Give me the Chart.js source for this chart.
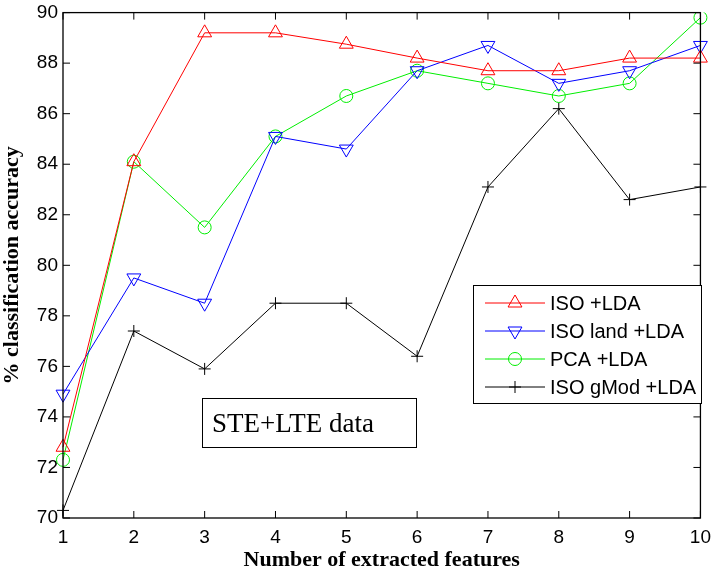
<!DOCTYPE html>
<html>
<head>
<meta charset="utf-8">
<script src="https://cdn.jsdelivr.net/npm/chart.js@4.4.1/dist/chart.umd.min.js"></script>
<style>
  body { margin: 0; background: #fff; }
  #wrap { width: 719px; height: 573px; }
</style>
</head>
<body>
<div id="wrap"><canvas id="chart"></canvas></div>
<script>
// number of extracted features
const features = [1, 2, 3, 4, 5, 6, 7, 8, 9, 10];
const yTicks = [70, 72, 74, 76, 78, 80, 82, 84, 86, 88, 90];

// % classification accuracy per method
const isoLda     = [72.8, 84.1, 89.2, 89.2, 88.75, 88.2, 87.7, 87.7, 88.2, 88.2];
const isoLandLda = [74.9, 79.5, 78.5, 85.1, 84.6, 87.7, 88.7, 87.2, 87.7, 88.7];
const pcaLda     = [72.3, 84.1, 81.5, 85.1, 86.7, 87.7, 87.2, 86.7, 87.2, 89.8];
const isoGModLda = [70.3, 77.4, 75.9, 78.5, 78.5, 76.4, 83.1, 86.2, 82.6, 83.1];

const seriesNames = ['ISO +LDA', 'ISO land +LDA', 'PCA +LDA', 'ISO gMod +LDA'];
const annotationText = 'STE+LTE data';

function makeSet(label, data, color, style, radius, rotation) {
    return {
        label: label,
        data: data,
        borderColor: color,
        backgroundColor: 'transparent',
        borderWidth: 1,
        pointStyle: style,
        pointRadius: radius,
        pointHoverRadius: radius,
        pointRotation: rotation || 0,
        pointBorderColor: color,
        pointBackgroundColor: 'transparent',
        pointBorderWidth: 1,
        tension: 0,
        fill: false
    };
}

// box, inward ticks, legend and text box, drawn the matlab way
const matlabFrame = {
    id: 'matlabFrame',
    afterDraw(chart) {
        const ctx = chart.ctx;
        const a = chart.chartArea;
        const xs = chart.scales.x;
        const ys = chart.scales.y;
        const tick = 7;

        ctx.save();
        ctx.strokeStyle = '#000';
        ctx.lineWidth = 1.3;
        ctx.strokeRect(a.left, a.top, a.right - a.left, a.bottom - a.top);

        ctx.lineWidth = 1;
        ctx.beginPath();
        features.forEach((f, i) => {
            const px = xs.getPixelForValue(i);
            ctx.moveTo(px, a.bottom); ctx.lineTo(px, a.bottom - tick);
            ctx.moveTo(px, a.top); ctx.lineTo(px, a.top + tick);
        });
        yTicks.forEach(v => {
            const py = ys.getPixelForValue(v);
            ctx.moveTo(a.left, py); ctx.lineTo(a.left + tick, py);
            ctx.moveTo(a.right, py); ctx.lineTo(a.right - tick, py);
        });
        ctx.stroke();

        // legend
        const lx = 473, ly = 285, lw = 228, lh = 118;
        ctx.fillStyle = '#fff';
        ctx.fillRect(lx, ly, lw, lh);
        ctx.strokeStyle = '#000';
        ctx.lineWidth = 1;
        ctx.strokeRect(lx + 0.5, ly + 0.5, lw, lh);
        ctx.font = '20px "Liberation Sans", Arial, sans-serif';
        ctx.textBaseline = 'middle';
        chart.data.datasets.forEach((ds, i) => {
            const y = ly + 18 + i * 28;
            ctx.strokeStyle = ds.borderColor;
            ctx.fillStyle = 'transparent';
            ctx.lineWidth = 1;
            ctx.beginPath();
            ctx.moveTo(lx + 12, y); ctx.lineTo(lx + 72, y);
            ctx.stroke();
            Chart.helpers.drawPoint(ctx, {
                pointStyle: ds.pointStyle,
                rotation: ds.pointRotation,
                radius: ds.pointRadius,
                borderWidth: 1
            }, lx + 42, y);
            ctx.fillStyle = '#000';
            ctx.fillText(ds.label, lx + 77, y + 1);
        });

        // text box
        ctx.strokeStyle = '#000';
        ctx.lineWidth = 1;
        ctx.strokeRect(202.5, 398.5, 214, 49);
        ctx.fillStyle = '#000';
        ctx.font = '27px "Liberation Serif", "Times New Roman", serif';
        ctx.textBaseline = 'alphabetic';
        ctx.fillText(annotationText, 212, 432);
        ctx.restore();
    }
};

new Chart(document.getElementById('chart'), {
    type: 'line',
    data: {
        labels: features.map(String),
        datasets: [
            makeSet(seriesNames[0], isoLda, '#ff0000', 'triangle', 8, 0),
            makeSet(seriesNames[1], isoLandLda, '#0000ff', 'triangle', 8, 180),
            makeSet(seriesNames[2], pcaLda, '#00ee00', 'circle', 6.5, 0),
            makeSet(seriesNames[3], isoGModLda, '#000000', 'cross', 6, 0)
        ]
    },
    options: {
        responsive: true,
        maintainAspectRatio: false,
        animation: false,
        layout: { padding: { top: 10, right: 10, left: 0, bottom: 0 } },
        plugins: {
            legend: { display: false },
            tooltip: { enabled: false },
            title: { display: false }
        },
        scales: {
            x: {
                offset: false,
                grid: { display: false, drawTicks: false },
                border: { display: false },
                ticks: {
                    color: '#000',
                    padding: 8,
                    maxRotation: 0,
                    font: { family: '"Liberation Sans", Arial, sans-serif', size: 19 }
                },
                title: {
                    display: true,
                    text: 'Number of extracted features',
                    color: '#000',
                    padding: { top: 0, bottom: 2 },
                    font: { family: '"Liberation Serif", "Times New Roman", serif', size: 22, weight: 'bold', lineHeight: 1 }
                },
                afterFit(scale) { scale.height = 55; }
            },
            y: {
                min: 70,
                max: 90,
                grid: { display: false, drawTicks: false },
                border: { display: false },
                ticks: {
                    stepSize: 2,
                    color: '#000',
                    padding: 5,
                    font: { family: '"Liberation Sans", Arial, sans-serif', size: 19, lineHeight: 0.8 }
                },
                title: {
                    display: true,
                    text: '% classification accuracy',
                    color: '#000',
                    padding: { top: 1, bottom: 0 },
                    font: { family: '"Liberation Serif", "Times New Roman", serif', size: 22, weight: 'bold', lineHeight: 1 }
                },
                afterFit(scale) { scale.width = 63; }
            }
        }
    },
    plugins: [matlabFrame]
});
</script>
</body>
</html>
